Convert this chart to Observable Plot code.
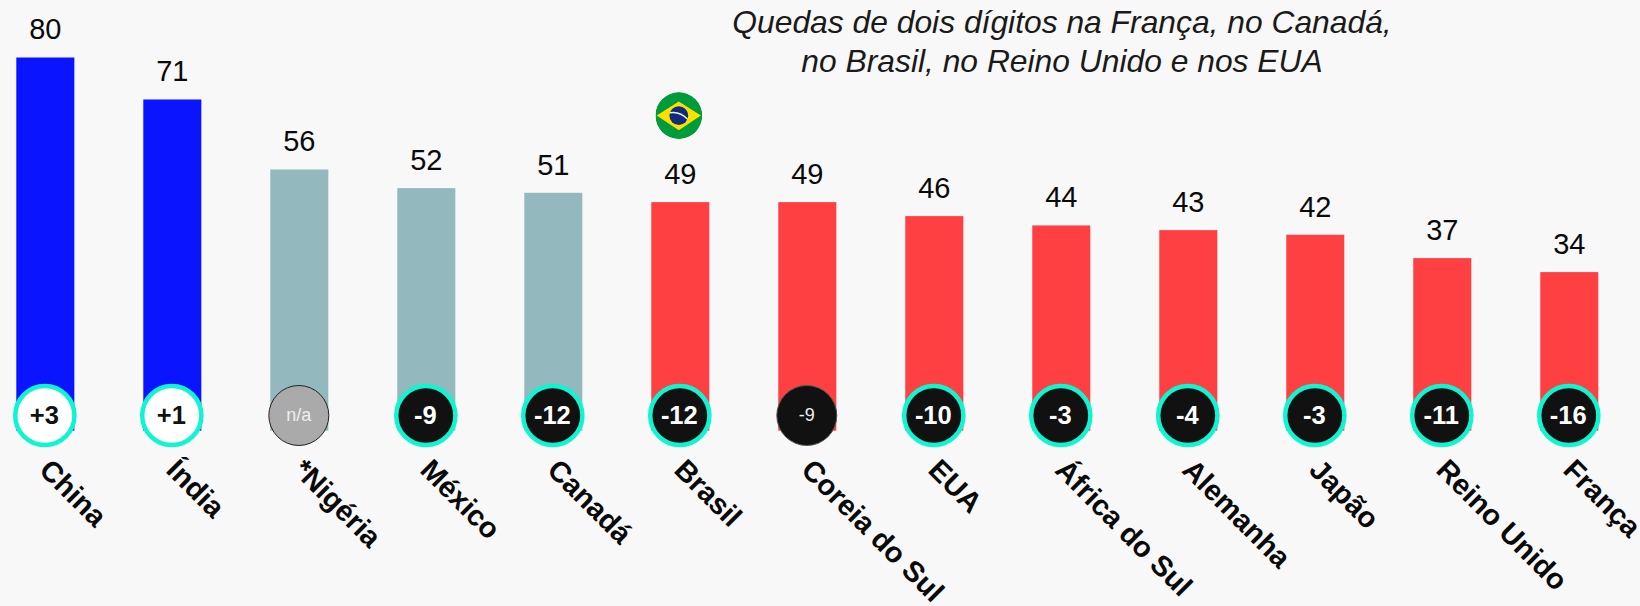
<!DOCTYPE html>
<html lang="pt">
<head>
<meta charset="utf-8">
<script src="https://cdn.jsdelivr.net/npm/d3@7"></script>
<script src="https://cdn.jsdelivr.net/npm/@observablehq/plot@0.6"></script>
<style>
html,body{margin:0;padding:0;background:#f8f8f8;overflow:hidden}
svg{display:block}
</style>
</head>
<body>
<div id="chart"></div>
<script>
const countries = ["China","Índia","*Nigéria","México","Canadá","Brasil","Coreia do Sul","EUA","África do Sul","Alemanha","Japão","Reino Unido","França"];
const values = [80,71,56,52,51,49,49,46,44,43,42,37,34];
const changes = ["+3","+1","n/a","-9","-12","-12","-9","-10","-3","-4","-3","-11","-16"];
const groups = ["alta","alta","estavel","estavel","estavel","queda","queda","queda","queda","queda","queda","queda","queda"];
const ringed = [true,true,false,true,true,true,false,true,true,true,true,true,true];
const groupNames = ["alta","estavel","queda"];
const groupColors = ["#0a14ff","#93b9bf","#ff4043"];
const titleLines = "Quedas de dois dígitos na França, no Canadá,\nno Brasil, no Reino Unido e nos EUA";
const flagCountry = ["Brasil"];

const rows = countries.map((name,i)=>({name,value:values[i],change:changes[i],group:groups[i],ring:ringed[i]}));
const FONT = "'Liberation Sans', Arial, sans-serif";
const discFill = d => d.change === "n/a" ? "#aaaaaa" : (d.change.startsWith("+") ? "#ffffff" : "#111111");

const flagSvg = `<svg xmlns="http://www.w3.org/2000/svg" viewBox="0 0 100 100"><defs><clipPath id="c"><circle cx="50" cy="50" r="50"/></clipPath></defs><g clip-path="url(#c)"><rect width="100" height="100" fill="#009b3a"/><path d="M3 50 L50 20 L97 50 L50 81 Z" fill="#fedf00"/><circle cx="50" cy="50" r="20" fill="#0f2a7f"/><path d="M31 44 Q52 40 69 58" fill="none" stroke="#e8f4f0" stroke-width="3"/></g></svg>`;
const flagSrc = "data:image/svg+xml;charset=utf-8," + encodeURIComponent(flagSvg);

const chart = Plot.plot({
  width:1640, height:606,
  marginTop:0, marginRight:0, marginBottom:0, marginLeft:0,
  style:{background:"#f8f8f8", fontFamily:FONT, overflow:"visible"},
  x:{domain:countries, range:[16.3,1598.3], paddingInner:0.543, paddingOuter:0, round:false, axis:null},
  y:{domain:[0,80], range:[430.7,57.5], axis:null},
  color:{domain:groupNames, range:groupColors},
  marks:[
    Plot.barY(rows,{x:"name", y:"value", fill:"group"}),
    Plot.text(rows,{x:"name", y:"value", text:d=>String(d.value), dy:-28, dx:-0.5, fontSize:29, fill:"#0a0a0a"}),
    Plot.image(flagCountry,{x:d=>d, y:()=>49, dy:-87, dx:-2, src:()=>flagSrc, r:23.5}),
    Plot.dot(rows.filter(d=>!d.ring),{x:"name", frameAnchor:"top", dy:415, dx:-1, r:30, fill:discFill, stroke:d=>d.change==="n/a"?"#222":"#555", strokeWidth:1}),
    Plot.dot(rows.filter(d=>d.ring),{x:"name", frameAnchor:"top", dy:415, dx:-1, r:29.6, fill:discFill, stroke:"#0ff5d2", strokeWidth:4.5}),
    Plot.text(rows.filter(d=>!d.ring),{x:"name", frameAnchor:"top", lineAnchor:"middle", dy:415, dx:-1, text:"change", fontSize:18, fill:"#eeeeee"}),
    Plot.text(rows.filter(d=>d.ring),{x:"name", frameAnchor:"top", lineAnchor:"middle", dy:415, dx:-1.5, text:"change", fontSize:25.5, fontWeight:"bold", fill:d=>d.change.startsWith("+")?"#111":"#ffffff"}),
    Plot.text(rows,{x:"name", frameAnchor:"top", lineAnchor:"middle", dy:464.5, dx:-1.5, text:"name", rotate:45, textAnchor:"start", fontSize:29, fontWeight:"bold", fill:"#0a0a0a"}),
    Plot.text([titleLines],{frameAnchor:"top", dx:241.5, dy:5, text:d=>d, fontSize:31.8, fontStyle:"italic", lineHeight:1.217, fill:"#1a1a1a", lineAnchor:"top"})
  ]
});
document.getElementById("chart").appendChild(chart);
</script>
</body>
</html>
